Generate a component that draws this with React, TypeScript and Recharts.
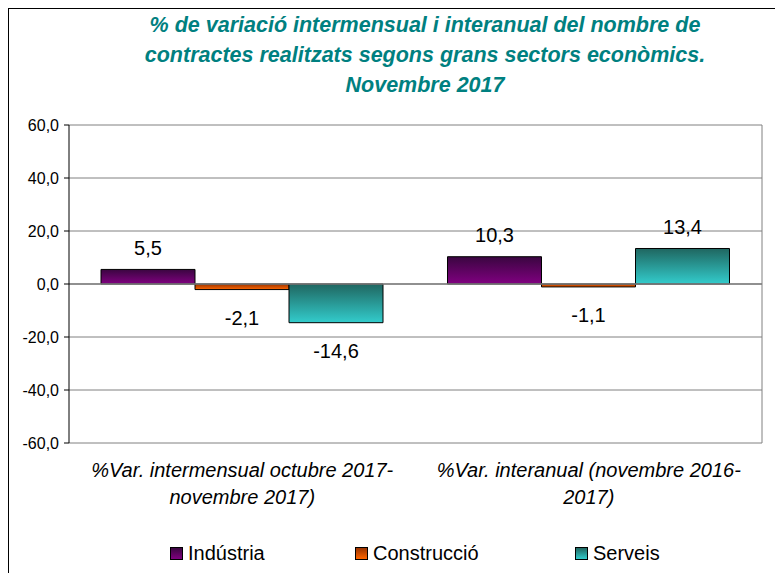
import React from "react";
import {
  BarChart,
  Bar,
  XAxis,
  YAxis,
  CartesianGrid,
  ReferenceLine,
  LabelList,
} from "recharts";

// periods on the x axis (each label is split on two lines)
const categories = [
  ["%Var. intermensual octubre 2017-", "novembre 2017)"],
  ["%Var. interanual (novembre 2016-", "2017)"],
];
const industria = [5.5, 10.3];
const construccio = [-2.1, -1.1];
const serveis = [-14.6, 13.4];
const yTicks = [-60, -40, -20, 0, 20, 40, 60];

const series = [
  { key: "industria", name: "Indústria", top: "#3a0640", bottom: "#800080" },
  { key: "construccio", name: "Construcció", top: "#993300", bottom: "#ff6600" },
  { key: "serveis", name: "Serveis", top: "#1f6660", bottom: "#33cccc" },
];

const data = categories.map((lines, i) => ({
  name: lines.join(" "),
  lines,
  industria: industria[i],
  construccio: construccio[i],
  serveis: serveis[i],
}));

const fmt = (v: number) => v.toFixed(1).replace(".", ",");

// value label: above positive bars, below negative ones
const ValueLabel = (props: any) => {
  const { x, y, width, height, value } = props;
  const cx = x + width / 2;
  const top = Math.min(y, y + height);
  const bottom = Math.max(y, y + height);
  const ty = value < 0 ? bottom + 30 : top - 20;
  return (
    <text x={cx} y={ty} textAnchor="middle" dominantBaseline="middle" fontSize={20} fill="#000">
      {fmt(value)}
    </text>
  );
};

const CategoryTick = (props: any) => {
  const { x, y, payload } = props;
  const item = data[payload.index];
  const lines = item ? item.lines : [payload.value];
  return (
    <g>
      {lines.map((l: string, i: number) => (
        <text
          key={i}
          x={x}
          y={y + 26 + i * 27}
          textAnchor="middle"
          fontSize={20}
          fontStyle="italic"
          fill="#000"
        >
          {l}
        </text>
      ))}
    </g>
  );
};

const App: React.FC = () => {
  return (
    <div
      style={{
        position: "relative",
        width: 775,
        height: 565,
        borderLeft: "1px solid #000",
        borderTop: "1px solid #000",
        fontFamily: "'Liberation Sans', Arial, sans-serif",
        background: "#fff",
      }}
    >
      {/* title */}
      <div
        style={{
          position: "absolute",
          left: 0,
          width: 832,
          top: 1,
          textAlign: "center",
          color: "#008080",
          fontWeight: "bold",
          fontStyle: "italic",
          fontSize: 21.5,
          lineHeight: "30px",
        }}
      >
        % de variació intermensual i interanual del nombre de
        <br />
        contractes realitzats segons grans sectors econòmics.
        <br />
        Novembre 2017
      </div>

      <BarChart
        width={775}
        height={565}
        data={data}
        margin={{ top: 116, right: 0, left: 0, bottom: 71 }}
        barCategoryGap={32}
        barGap={0}
        style={{ fontFamily: "'Liberation Sans', Arial, sans-serif" }}
      >
        <defs>
          {series.map((s) => (
            <linearGradient key={s.key} id={`g-${s.key}`} x1="0" y1="0" x2="0" y2="1">
              <stop offset="0%" stopColor={s.top} />
              <stop offset="100%" stopColor={s.bottom} />
            </linearGradient>
          ))}
        </defs>
        <CartesianGrid vertical={false} stroke="#808080" strokeWidth={1} />
        <XAxis
          dataKey="name"
          axisLine={false}
          tickLine={false}
          height={60}
          interval={0}
          tick={<CategoryTick />}
        />
        <YAxis
          width={60}
          domain={[-60, 60]}
          ticks={yTicks}
          tickFormatter={fmt}
          axisLine={{ stroke: "#000" }}
          tickLine={{ stroke: "#000" }}
          tickSize={5}
          tickMargin={5}
          tick={{ fontSize: 16, fill: "#000" }}
        />
        <YAxis
          yAxisId="right"
          orientation="right"
          width={22}
          domain={[-60, 60]}
          tick={false}
          tickLine={false}
          axisLine={{ stroke: "#808080" }}
        />
        <ReferenceLine y={0} stroke="#808080" strokeWidth={1.5} />
        {series.map((s) => (
          <Bar
            key={s.key}
            dataKey={s.key}
            name={s.name}
            fill={`url(#g-${s.key})`}
            stroke="#000"
            strokeWidth={1}
            isAnimationActive={false}
          >
            <LabelList dataKey={s.key} content={<ValueLabel />} />
          </Bar>
        ))}
      </BarChart>

      {/* legend */}
      {series.map((s, i) => (
        <div
          key={s.key}
          style={{
            position: "absolute",
            top: 533,
            left: [161, 346, 566][i],
            display: "flex",
            alignItems: "center",
            fontSize: 20,
            color: "#000",
          }}
        >
          <span
            style={{
              display: "inline-block",
              width: 11,
              height: 11,
              background: `linear-gradient(${s.top}, ${s.bottom})`,
              border: "1px solid #000",
              marginRight: 5,
            }}
          />
          {s.name}
        </div>
      ))}
    </div>
  );
};

export default App;
